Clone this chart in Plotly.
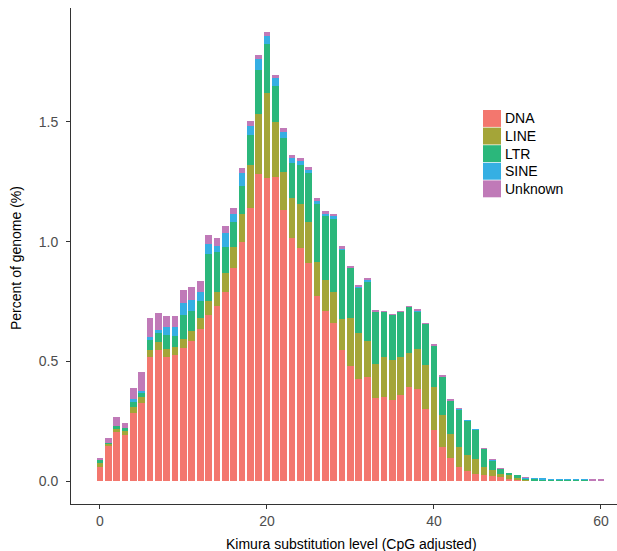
import plotly.graph_objects as go

kimura = list(range(0, 61))

dna = [0.059, 0.149, 0.206, 0.194, 0.283, 0.324, 0.519, 0.548, 0.519, 0.527,
       0.556, 0.585, 0.635, 0.694, 0.731, 0.790, 0.890, 0.998, 1.140, 1.281,
       1.265, 1.269, 1.131, 1.015, 0.973, 0.910, 0.773, 0.710, 0.660, 0.548,
       0.481, 0.427, 0.435, 0.348, 0.352, 0.340, 0.360, 0.394, 0.385, 0.302,
       0.215, 0.144, 0.098, 0.060, 0.041, 0.031, 0.023, 0.019, 0.015, 0.010,
       0.008, 0.004, 0.002, 0.002, 0.002, 0.001, 0.001, 0.001, 0.001, 0.0005, 0.0005]

line = [0.015, 0.006, 0.013, 0.016, 0.025, 0.025, 0.029, 0.033, 0.033, 0.033,
        0.038, 0.042, 0.046, 0.058, 0.059, 0.079, 0.087, 0.117, 0.179, 0.254,
        0.358, 0.229, 0.159, 0.166, 0.183, 0.171, 0.142, 0.130, 0.130, 0.129,
        0.200, 0.192, 0.150, 0.142, 0.167, 0.166, 0.159, 0.141, 0.167, 0.183,
        0.179, 0.133, 0.100, 0.084, 0.069, 0.059, 0.037, 0.029, 0.016, 0.013,
        0.008, 0.001, 0.002, 0.002, 0.001, 0.003, 0.001, 0.003, 0.003, 0.001, 0.001]

ltr = [0.016, 0.005, 0.012, 0.013, 0.025, 0.021, 0.042, 0.038, 0.058, 0.046,
       0.100, 0.083, 0.071, 0.196, 0.166, 0.108, 0.104, 0.116, 0.125, 0.184,
       0.204, 0.154, 0.141, 0.146, 0.163, 0.204, 0.241, 0.266, 0.308, 0.288,
       0.210, 0.190, 0.250, 0.218, 0.187, 0.188, 0.187, 0.192, 0.158, 0.171,
       0.171, 0.158, 0.137, 0.154, 0.142, 0.125, 0.075, 0.037, 0.021, 0.012,
       0.007, 0.005, 0.005, 0.004, 0.004, 0.003, 0.004, 0.003, 0.003, 0.001, 0.001]

sine = [0, 0, 0, 0, 0.008, 0.007, 0.012, 0.012, 0.033, 0.038,
        0.050, 0.046, 0.038, 0.042, 0.025, 0.058, 0.034, 0.054, 0.041, 0.046,
        0.033, 0.033, 0.029, 0.021, 0.021, 0.017, 0.017, 0.013, 0.008, 0.008,
        0.002, 0.002, 0.006, 0.001, 0.002, 0.001, 0.002, 0.002, 0.002, 0.002,
        0.001, 0.001, 0.001, 0.003, 0.001, 0.001, 0.001, 0.004, 0, 0,
        0, 0.003, 0.001, 0.001, 0.001, 0.001, 0.001, 0.001, 0.001, 0.001, 0.001]

unknown = [0.008, 0.021, 0.038, 0.021, 0.049, 0.079, 0.079, 0.071, 0.046, 0.046,
           0.054, 0.054, 0.045, 0.037, 0.034, 0.030, 0.025, 0.021, 0.021, 0.016,
           0.017, 0.013, 0.013, 0.012, 0.008, 0.008, 0.008, 0.008, 0.009, 0.008,
           0.005, 0.004, 0.003, 0.002, 0.002, 0.001, 0.002, 0.002, 0.003, 0.002,
           0.003, 0.004, 0.004, 0.001, 0, 0, 0.001, 0.001, 0.001, 0,
           0, 0.002, 0, 0, 0, 0, 0, 0, 0, 0.001, 0.001]

series_names = ["DNA", "LINE", "LTR", "SINE", "Unknown"]
series_values = [dna, line, ltr, sine, unknown]
series_colors = ["#F3776E", "#A4A538", "#2BB77B", "#35AFE3", "#C07AB8"]

y_ticks = [0.0, 0.5, 1.0, 1.5]
x_ticks = [0, 20, 40, 60]

W, H = 617, 551
L, R, T, B = 71, 617, 8, 504

FONT = "Liberation Sans, Arial, Helvetica, sans-serif"

fig = go.Figure()
for name, vals, col in zip(series_names, series_values, series_colors):
    fig.add_trace(go.Bar(x=kimura, y=vals, name=name,
                         marker=dict(color=col, line=dict(width=0)),
                         showlegend=False))


def px2paper_x(px):
    return (px - L) / (R - L)


def px2paper_y(py):
    return (B - py) / (B - T)


shapes = []
annotations = []
for k, (name, col) in enumerate(zip(series_names, series_colors)):
    top = 110 + 17.6 * k
    bot = top + 16.9
    shapes.append(dict(type="rect", xref="paper", yref="paper",
                       x0=px2paper_x(483), x1=px2paper_x(501),
                       y0=px2paper_y(bot), y1=px2paper_y(top),
                       fillcolor=col, line=dict(width=0), layer="above"))
    annotations.append(dict(xref="paper", yref="paper",
                            x=px2paper_x(503), y=px2paper_y((top + bot) / 2),
                            text=name, showarrow=False, xanchor="left", yanchor="middle",
                            font=dict(family=FONT, size=14, color="#000000")))

annotations.append(dict(xref="paper", yref="paper",
                        x=px2paper_x(351), y=px2paper_y(544),
                        text="Kimura substitution level (CpG adjusted)",
                        showarrow=False, xanchor="center", yanchor="middle",
                        font=dict(family=FONT, size=14, color="#000000")))
annotations.append(dict(xref="paper", yref="paper",
                        x=px2paper_x(16), y=px2paper_y(258),
                        text="Percent of genome (%)", textangle=-90,
                        showarrow=False, xanchor="center", yanchor="middle",
                        font=dict(family=FONT, size=14, color="#000000")))

fig.update_layout(
    width=W, height=H,
    margin=dict(l=L, r=W - R, t=T, b=H - B, pad=0, autoexpand=False),
    barmode="stack", bargap=0.2,
    paper_bgcolor="white", plot_bgcolor="white",
    font=dict(family=FONT, size=14, color="#4D4D4D"),
    shapes=shapes, annotations=annotations,
    xaxis=dict(range=[-3.47, 61.92], showgrid=False, zeroline=False,
               showline=True, linecolor="#333333", linewidth=1,
               ticks="outside", ticklen=4, tickcolor="#333333", tickwidth=1,
               tickvals=x_ticks, ticktext=[str(v) for v in x_ticks],
               tickfont=dict(family=FONT, size=14, color="#4D4D4D"),
               automargin=False),
    yaxis=dict(range=[-0.0961, 1.976], showgrid=False, zeroline=False,
               showline=True, linecolor="#333333", linewidth=1,
               ticks="outside", ticklen=4, tickcolor="#333333", tickwidth=1,
               tickvals=y_ticks, ticktext=["%.1f" % v for v in y_ticks],
               tickfont=dict(family=FONT, size=14, color="#4D4D4D"),
               ticklabelstandoff=5, automargin=False),
)

fig.write_html("out.html", config={"displayModeBar": False},
               post_script="document.body.style.margin='0';document.body.style.overflow='hidden';")
